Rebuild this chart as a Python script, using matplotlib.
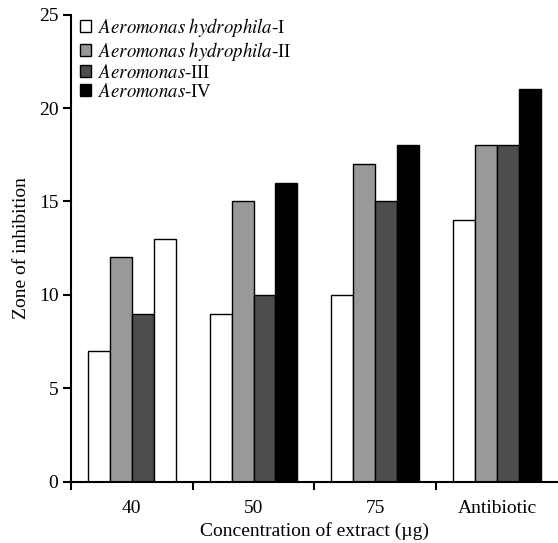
import numpy as np
import matplotlib
matplotlib.use("Agg")
from matplotlib import pyplot as plt
from matplotlib.patches import Patch

plt.rcParams['font.family'] = ['Liberation Serif', 'DejaVu Serif']
plt.rcParams['mathtext.fontset'] = 'stix'

# dados
categorias = ['40', '50', '75', 'Antibiotic']
serie_I = [7, 9, 10, 14]
serie_II = [12, 15, 17, 18]
serie_III = [9, 10, 15, 18]
serie_IV = [13, 16, 18, 21]
nomes = [r'$\mathit{Aeromonas\ hydrophila}$-I',
         r'$\mathit{Aeromonas\ hydrophila}$-II',
         r'$\mathit{Aeromonas}$-III',
         r'$\mathit{Aeromonas}$-IV']

cores = ['white', '#999999', '#4d4d4d', 'black']
# no original, a 4a barra do grupo "40" aparece branca
cores_IV = ['white', 'black', 'black', 'black']

fig = plt.figure(figsize=(5.58, 5.43), dpi=100)
ax = fig.add_axes([0.127, 0.113, 0.873, 0.860])

x = np.arange(len(categorias))
w = 0.18
series = [serie_I, serie_II, serie_III, serie_IV]
for i, valores in enumerate(series):
    cor = cores_IV if i == 3 else cores[i]
    ax.bar(x + (i - 1.5) * w, valores, w, color=cor, edgecolor='black',
           linewidth=1.0, label=nomes[i])

ax.set_xlim(-0.5, 3.5)
ax.set_ylim(0, 25)
ax.set_yticks([0, 5, 10, 15, 20, 25])
ax.set_xticks(x)
ax.set_xticklabels(categorias)
ax.set_xticks([-0.5, 0.5, 1.5, 2.5], minor=True)
ax.tick_params(axis='x', which='major', length=0, labelsize=14, pad=13)
ax.tick_params(axis='x', which='minor', length=6, width=1.5, direction='out')
ax.tick_params(axis='y', length=6, width=1.5, labelsize=14, pad=3)
for s in ['top', 'right']:
    ax.spines[s].set_visible(False)
for s in ['left', 'bottom']:
    ax.spines[s].set_linewidth(1.5)

ax.set_xlabel('Concentration of extract (µg)', fontsize=14, labelpad=4)
ax.set_ylabel('Zone of inhibition', fontsize=14, labelpad=6)

# legenda com quadradinhos
handles = [Patch(facecolor=c, edgecolor='black', linewidth=1.0) for c in cores]
ax.legend(handles, nomes, loc='upper left', bbox_to_anchor=(0.0, 1.018),
          frameon=False, fontsize=13.5, handlelength=0.6, handleheight=0.6,
          handletextpad=0.35, labelspacing=0.06, borderaxespad=0.3,
          borderpad=0.2)

fig.savefig('out.png', dpi=100)
